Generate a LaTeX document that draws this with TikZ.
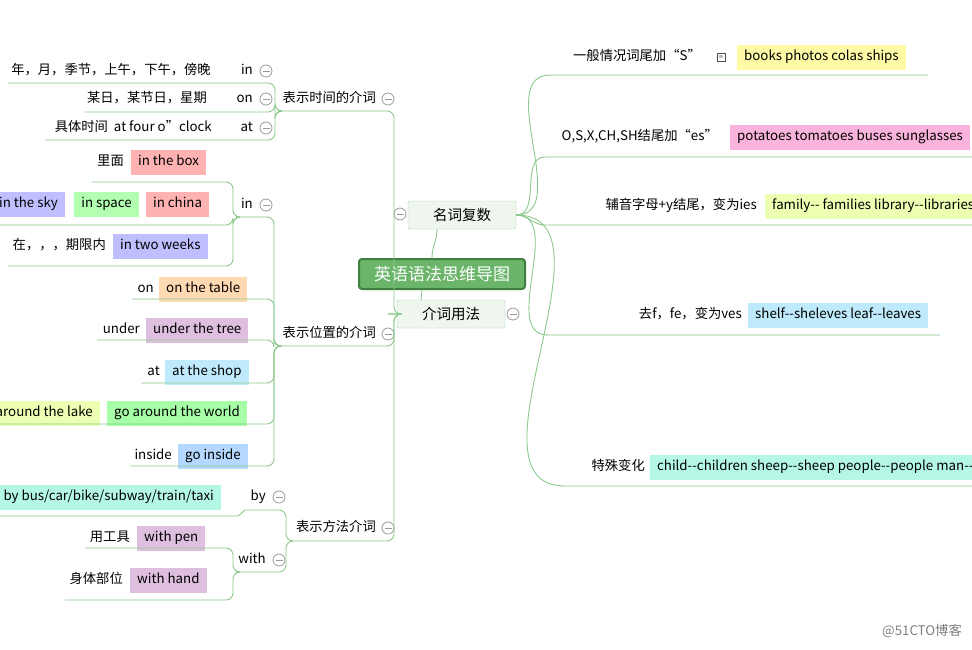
\documentclass[tikz,border=0pt]{standalone}
\usepackage{fontspec}
\setmainfont{Noto Sans CJK SC}
\usetikzlibrary{positioning}
\definecolor{branch}{HTML}{8CC98C}
\definecolor{rootfill}{HTML}{6AB56A}
\definecolor{rootdraw}{HTML}{3F7F3F}
\definecolor{subfill}{HTML}{EEF6EE}
\definecolor{mint}{HTML}{B4F7E4}
\definecolor{skyblue}{HTML}{B4D8FF}
\tikzset{
  txt/.style={font=\fontsize{13.3}{15}\selectfont, inner sep=2pt, text height=10pt, text depth=3pt},
  hl/.style={txt, fill=#1, inner xsep=7pt, minimum height=25pt},
  group/.style={txt},
  sub/.style={font=\fontsize{14.5}{16}\selectfont, draw=branch!80, fill=subfill, rounded corners=2pt,
    minimum width=108pt, minimum height=28pt},
  fold/.style={circle, draw=gray!80, thick, minimum size=12pt, inner sep=0pt,
    path picture={\draw[gray!80, thick] ([xshift=-3.5pt]path picture bounding box.center)
      -- ([xshift=3.5pt]path picture bounding box.center);}},
  link/.style={draw=branch, line width=0.9pt},
  elbow/.style={link, rounded corners=7pt},
}
\begin{document}
\begin{tikzpicture}[x=1pt, y=-1pt]
  \useasboundingbox (0,0) rectangle (972,649);
  \clip (0,0) rectangle (972,649);
  \fill[white] (0,0) rectangle (972,649);

  % root and main branches
  \node[font=\fontsize{17}{19}\selectfont, text=white, fill=rootfill, draw=rootdraw, line width=2pt,
        rounded corners=3pt, minimum width=166pt, minimum height=30pt] (root) at (442,274) {英语语法思维导图};
  \node[sub] (nouns) at (462,215) {名词复数};
  \node[fold] (fnouns) at (400,214) {};
  \node[sub] (preps) at (451,314) {介词用法};
  \node[fold] (fpreps) at (513,314) {};
  \draw[link] (root.north) ++(-10,0) to[out=90,in=-90] ([xshift=-25pt]nouns.south);
  \draw[link] (root.south) ++(-20,0) to[out=-90,in=90] ([xshift=-30pt]preps.north);

  % right side: nouns
  \node[txt, anchor=east] (r1t) at (703,57) {一般情况词尾加“S”};
  \node[draw=black!70, minimum size=8pt, inner sep=0pt, font=\tiny] (r1i) at (721,57) {$\equiv$};
  \node[hl=yellow!35, anchor=west] (r1b) at (737,57) {books photos colas ships};
  \node[txt, anchor=east] (r2t) at (720,137) {O,S,X,CH,SH结尾加“es”};
  \node[hl=magenta!30, anchor=west] (r2b) at (730,137) {potatoes tomatoes buses sunglasses};
  \node[txt, anchor=east] (r3t) at (759,206) {辅音字母+y结尾，变为ies};
  \node[hl=lime!30, anchor=west] (r3b) at (765,206) {family{-}{-} families library{-}{-}libraries};
  \node[txt, anchor=east] (r4t) at (744,315) {去f，fe，变为ves};
  \node[hl=cyan!25, anchor=west] (r4b) at (748,315) {shelf{-}{-}sheleves leaf{-}{-}leaves};
  \node[txt, anchor=east] (r5t) at (647,467) {特殊变化};
  \node[hl=mint, anchor=west] (r5b) at (650,467) {child{-}{-}children sheep{-}{-}sheep people{-}{-}people man{-}{-}men};
  \coordinate (r1s) at (550,75);  \coordinate (r1e) at (928,75);
  \coordinate (r2s) at (545,157); \coordinate (r2e) at (972,157);
  \coordinate (r3s) at (545,225); \coordinate (r3e) at (972,225);
  \coordinate (r4s) at (548,335); \coordinate (r4e) at (940,335);
  \coordinate (r5s) at (565,486); \coordinate (r5e) at (972,486);
  \foreach \i in {1,...,5}
    \draw[link] (nouns.east) to[out=0,in=180] (r\i s) -- (r\i e);

  % left side: groups
  \node[group, anchor=east] (gtime) at (378,99) {表示时间的介词};
  \node[fold] (ftime) at (388,99) {};
  \node[group, anchor=east] (gplace) at (378,334) {表示位置的介词};
  \node[fold] (fplace) at (388,334) {};
  \node[group, anchor=east] (gway) at (378,528) {表示方法介词};
  \node[fold] (fway) at (388,528) {};
  \coordinate (gtimeL) at (278,111); \coordinate (gtimeR) at (394,111);
  \coordinate (gplaceL) at (278,346); \coordinate (gplaceR) at (394,346);
  \coordinate (gwayL) at (290,541); \coordinate (gwayR) at (394,541);
  \foreach \g in {gtime,gplace,gway}
    \draw[elbow] (preps.west) -- ++(-2,0) -| (\g R) -- (\g L);

  % time
  \node[txt, anchor=east] (tin) at (255,71) {in};
  \node[fold] (ftin) at (266,71) {};
  \node[txt, anchor=east] (tint) at (213,71) {年，月，季节，上午，下午，傍晚};
  \node[txt, anchor=east] (ton) at (255,99) {on};
  \node[fold] (fton) at (266,99) {};
  \node[txt, anchor=east] (tont) at (209,99) {某日，某节日，星期};
  \node[txt, anchor=east] (tat) at (255,128) {at};
  \node[fold] (ftat) at (266,128) {};
  \node[txt, anchor=east] (tatt) at (214,128) {具体时间\ \ at four o”clock};
  \coordinate (t1e) at (8,83);
  \coordinate (t2e) at (85,112);
  \coordinate (t3e) at (45,140);
  \foreach \i in {1,2,3}
    \draw[elbow] (gtimeL) -- ++(-3,0) |- (t\i e);

  % place
  \node[txt, anchor=east] (pin) at (255,205) {in};
  \node[fold] (fpin) at (266,205) {};
  \node[txt, anchor=east] (pa1) at (126,162) {里面};
  \node[hl=red!30, anchor=west] (pa1b) at (131,162) {in the box};
  \node[hl=red!30, anchor=west] (pa2c) at (146,204) {in china};
  \node[hl=green!30, anchor=east] (pa2b) at (139,204) {in space};
  \node[hl=blue!25, anchor=east] (pa2a) at (65,204) {in the sky};
  \node[txt, anchor=east] (pa3) at (108,246) {在，，，期限内};
  \node[hl=blue!25, anchor=west] (pa3b) at (113,246) {in two weeks};
  \coordinate (pa1e) at (92,182);
  \coordinate (pa2e) at (0,225);
  \coordinate (pa3e) at (8,266);
  \coordinate (pinL) at (236,217);
  \foreach \i in {1,2,3}
    \draw[elbow] (pinL) -- ++(-3,0) |- (pa\i e);

  \node[txt, anchor=east] (pon) at (156,289) {on};
  \node[hl=orange!30, anchor=west] (ponb) at (159,289) {on the table};
  \node[txt, anchor=east] (punder) at (142,330) {under};
  \node[hl=violet!25, anchor=west] (punderb) at (146,330) {under the tree};
  \node[txt, anchor=east] (pat) at (162,372) {at};
  \node[hl=cyan!25, anchor=west] (patb) at (165,372) {at the shop};
  \node[hl=green!35, anchor=west] (paroundb) at (107,413) {go around the world};
  \node[hl=lime!30, anchor=east] (parounda) at (100,413) {go around the lake};
  \node[txt, anchor=east] (pinside) at (174,456) {inside};
  \node[hl=skyblue, anchor=west] (pinsideb) at (178,456) {go inside};
  \coordinate (p1e) at (236,217);
  \coordinate (p2e) at (132,299);
  \coordinate (p3e) at (97,340);
  \coordinate (p4e) at (141,383);
  \coordinate (p5e) at (0,424);
  \coordinate (p6e) at (130,466);
  \foreach \i in {1,...,6}
    \draw[elbow] (gplaceL) -- ++(-4,0) |- (p\i e);

  % way
  \node[txt, anchor=east] (wby) at (268,497) {by};
  \node[fold] (fwby) at (279,497) {};
  \node[hl=mint, anchor=east] (wbyb) at (221,497) {by bus/car/bike/subway/train/taxi};
  \node[txt, anchor=east] (wwith) at (268,560) {with};
  \node[fold] (fwwith) at (279,560) {};
  \node[txt, anchor=east] (ww1) at (132,538) {用工具};
  \node[hl=violet!25, anchor=west] (ww1b) at (137,538) {with pen};
  \node[txt, anchor=east] (ww2) at (125,580) {身体部位};
  \node[hl=violet!25, anchor=west] (ww2b) at (130,580) {with hand};
  \coordinate (w1m) at (245,510); \coordinate (w1k) at (238,516); \coordinate (w1e) at (0,516);
  \coordinate (w2e) at (236,572);
  \draw[elbow] (gwayL) -- ++(-4,0) |- (w1m);
  \draw[link] (w1m) -- (w1k) -- (w1e);
  \draw[elbow] (gwayL) -- ++(-4,0) |- (w2e);
  \coordinate (wa1e) at (85,548);
  \coordinate (wa2e) at (65,600);
  \foreach \i in {1,2}
    \draw[elbow] (w2e) -- ++(-3,0) |- (wa\i e);

  % watermark
  \node[txt, text=gray, anchor=east] (mark) at (964,632) {@51CTO博客};
\end{tikzpicture}
\end{document}
